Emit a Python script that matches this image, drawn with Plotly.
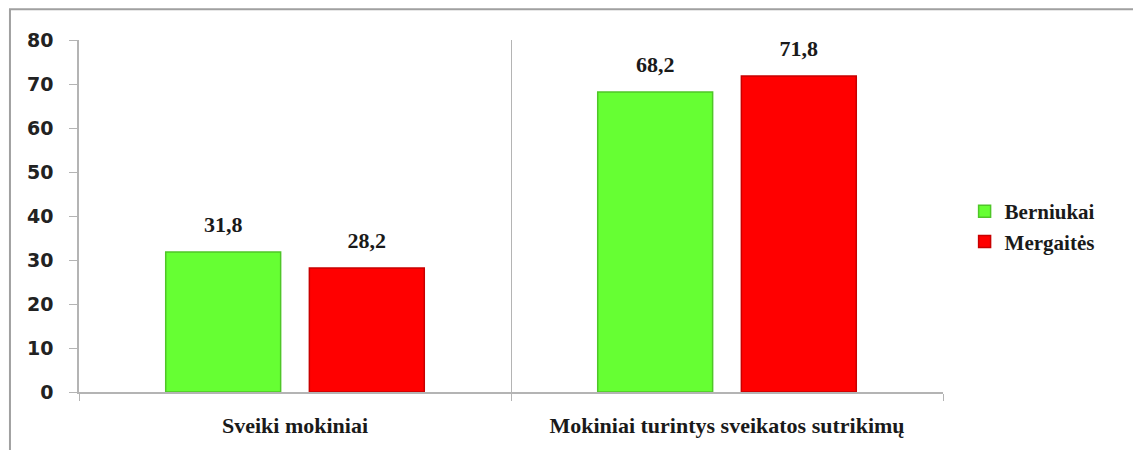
import plotly.graph_objects as go

kategorijos = ['Sveiki mokiniai', 'Mokiniai turintys sveikatos sutrikimų']
berniukai = [31.8, 68.2]
mergaites = [28.2, 71.8]
y_ticks = [0, 10, 20, 30, 40, 50, 60, 70, 80]

serif = 'Liberation Serif, Times New Roman, serif'
grid = '#b4b4b4'

def bar(y, name, color, edge):
    return go.Bar(
        x=kategorijos,
        y=y,
        name=name,
        marker=dict(color=color, line=dict(color=edge, width=1.5)),
    )

def labels(y):
    # reikšmės virš stulpelių, sulygiuotos su grupėmis
    return go.Scatter(
        x=kategorijos,
        y=y,
        mode='markers+text',
        text=[f'{v:.1f}'.replace('.', ',') for v in y],
        textposition='top center',
        marker=dict(size=22, opacity=0),
        textfont=dict(family=serif, size=22, color='#1a1a1a', weight='bold'),
        cliponaxis=False,
        showlegend=False,
        hoverinfo='skip',
    )

fig = go.Figure()
fig.add_trace(bar(berniukai, 'Berniukai', '#66ff33', '#4fc628'))
fig.add_trace(bar(mergaites, 'Mergaitės', '#ff0000', '#c80000'))
fig.add_trace(labels(berniukai))
fig.add_trace(labels(mergaites))

fig.update_layout(
    width=1133,
    height=450,
    barmode='group',
    bargap=0.335,
    bargroupgap=0.20,
    scattermode='group',
    scattergap=0.335,
    separators=',.',
    plot_bgcolor='white',
    paper_bgcolor='white',
    margin=dict(l=79, r=190, t=40, b=56),
    showlegend=True,
    legend=dict(
        x=1.025, xanchor='left',
        y=0.47, yanchor='middle',
        font=dict(family=serif, size=21, color='#1a1a1a', weight='bold'),
        itemwidth=30,
        tracegroupgap=0,
    ),
    xaxis=dict(
        type='category',
        tickson='boundaries',
        showgrid=True,
        gridcolor=grid,
        gridwidth=1,
        showline=True,
        linecolor=grid,
        linewidth=1.5,
        ticks='outside',
        ticklen=7,
        tickcolor=grid,
        ticklabelstandoff=13,
        tickfont=dict(family=serif, size=22, color='#1a1a1a', weight='bold'),
    ),
    yaxis=dict(
        range=[0, 80],
        tickvals=y_ticks,
        showgrid=False,
        zeroline=False,
        showline=True,
        linecolor=grid,
        linewidth=1.5,
        ticks='outside',
        ticklen=8,
        tickcolor=grid,
        ticklabelstandoff=12,
        tickfont=dict(family='DejaVu Sans', size=19, color='#222222', weight='bold'),
    ),
    shapes=[
        dict(type='rect', xref='paper', yref='paper',
             x0=-0.0799, x1=1.25, y0=-0.3, y1=1.0876,
             line=dict(color='#a0a0a0', width=2), fillcolor='rgba(0,0,0,0)',
             layer='below'),
    ],
)

fig.write_html('out.html', config={'displayModeBar': False},
               post_script="document.body.style.margin='0';")
